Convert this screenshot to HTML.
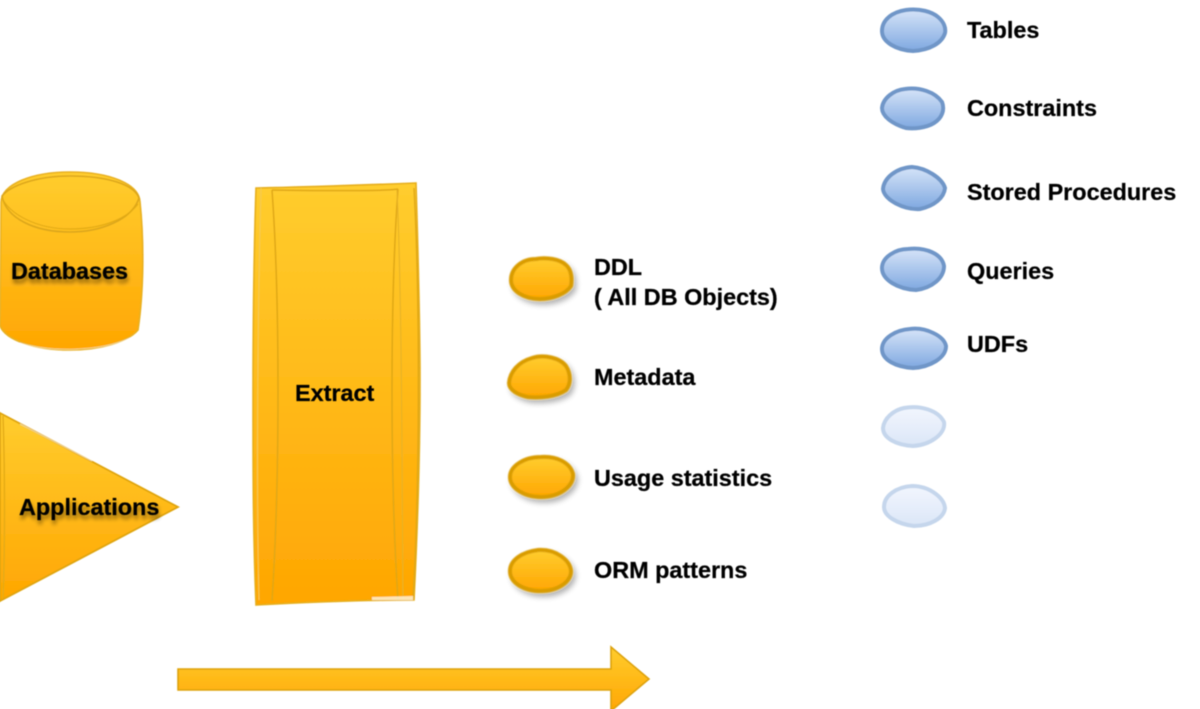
<!DOCTYPE html>
<html>
<head>
<meta charset="utf-8">
<style>
html,body{margin:0;padding:0;background:#fff;width:1200px;height:709px;overflow:hidden}
svg{display:block}
text{font-family:"Liberation Sans",sans-serif;font-weight:bold;font-size:23.4px;fill:#050505;stroke:#050505;stroke-width:0.25px}
.l{filter:url(#ts)}
</style>
</head>
<body>
<svg width="1200" height="709" viewBox="0 0 1200 709" xmlns="http://www.w3.org/2000/svg">
<defs>
<linearGradient id="o" x1="0" y1="0" x2="0" y2="1"><stop offset="0" stop-color="#ffcd2e"/><stop offset="1" stop-color="#ffa602"/></linearGradient>
<linearGradient id="b" x1="0" y1="0" x2="0" y2="1"><stop offset="0" stop-color="#d6e4f8"/><stop offset="1" stop-color="#7fa8e0"/></linearGradient>
<linearGradient id="f" x1="0" y1="0" x2="0" y2="1"><stop offset="0" stop-color="#f2f6fe"/><stop offset="1" stop-color="#dbe6f7"/></linearGradient>
<filter id="soft" x="-10%" y="-10%" width="120%" height="120%"><feGaussianBlur stdDeviation="0.6"/></filter>
<filter id="sh" x="-30%" y="-30%" width="170%" height="170%"><feGaussianBlur in="SourceAlpha" stdDeviation="3" result="a"/><feOffset in="a" dx="3" dy="4" result="o"/><feComponentTransfer in="o" result="c"><feFuncA type="linear" slope="0.3"/></feComponentTransfer><feGaussianBlur in="SourceGraphic" stdDeviation="0.7" result="g"/><feMerge><feMergeNode in="c"/><feMergeNode in="g"/></feMerge></filter>
<filter id="ts" x="-10%" y="-40%" width="120%" height="200%"><feGaussianBlur in="SourceAlpha" stdDeviation="2.2" result="a"/><feOffset in="a" dx="1" dy="4" result="o"/><feComponentTransfer in="o" result="c"><feFuncA type="linear" slope="0.45"/></feComponentTransfer><feGaussianBlur in="SourceGraphic" stdDeviation="0.45" result="g"/><feMerge><feMergeNode in="c"/><feMergeNode in="g"/></feMerge></filter>
<filter id="tx" x="-5%" y="-20%" width="110%" height="140%"><feGaussianBlur stdDeviation="0.45"/></filter>
</defs>

<g filter="url(#soft)">
<!-- Cylinder -->
<path d="M1 202 C2 184 32 172 70 172 C110 172 139 184 140 202 C144 240 144 290 138 330 C128 342 100 350 70 350 C34 350 6 340 0 326 Z" fill="url(#o)" stroke="#e8b020" stroke-width="1.6"/>
<path d="M2 196 C10 186 36 176 70 176 C106 176 134 184 139 198 C132 220 100 232 70 232 C34 232 6 218 2 196 Z" fill="none" stroke="#dca61a" stroke-width="1.6"/>
<path d="M2 198 C10 214 36 229 70 229 C100 229 126 220 138 204" fill="none" stroke="#e3ab18" stroke-width="1.2"/>
<path d="M20 343 C50 352 100 352 130 338" fill="none" stroke="#fff" stroke-opacity="0.5" stroke-width="1"/>

<!-- Triangle -->
<path d="M0 413 L178 507 L0 601 Z" fill="url(#o)" stroke="#dfa410" stroke-width="1.8"/>
<path d="M3 416 C5 470 5 550 3 598" fill="none" stroke="#e3ab18" stroke-width="1.4"/>
<path d="M20 424 L92 461" fill="none" stroke="#fff" stroke-opacity="0.55" stroke-width="1"/>

<!-- Extract -->
<path d="M256 188 C310 187 365 185 416 183 C418 250 420 320 420 380 C420 470 417 540 414 600 C360 600 310 602 256 605 C253 530 253 470 253 400 C253 320 254 250 256 188 Z" fill="url(#o)" stroke="#e6ae1c" stroke-width="1.6"/>
<path d="M261 188 C258 300 256 480 259 600" fill="none" stroke="#f3ca55" stroke-width="1"/>
<path d="M272 190 C280 300 280 480 272 601" fill="none" stroke="#dfa716" stroke-width="1.5"/>
<path d="M272 190 C276 190 380 192 398 189" fill="none" stroke="#dfa716" stroke-width="1.5"/>
<path d="M398 189 C390 300 390 480 398 600" fill="none" stroke="#dfa716" stroke-width="1.5"/>
<path d="M397 190 C402 300 402 480 403 600" fill="none" stroke="#e6b228" stroke-width="1.1"/>
<path d="M414 188 C420 300 420 480 413 600" fill="none" stroke="#dfa716" stroke-width="1.4"/>
<path d="M372 597 L413 596 L413 600 L372 600 Z" fill="#fff" fill-opacity="0.7"/>

<!-- Arrow -->
<path d="M178 669 H611 V647 L649 679 L611 711 V690 H178 Z" fill="url(#o)" stroke="#dda20c" stroke-width="1.6"/>
</g>

<!-- Orange bullets -->
<g fill="url(#o)" stroke="#d99c06" stroke-width="4" filter="url(#sh)">
<path d="M511 280 C511 268 522 259 536 259 C546 257 560 259 566 265 C572 270 572 280 571 286 C566 294 552 299 540 299 C524 299 511 291 511 280 Z"/>
<path d="M509 383 C510 372 518 362 532 358 C544 354 560 358 566 366 C571 374 571 384 566 390 C556 397 540 398 528 397 C518 395 509 390 509 383 Z"/>
<path d="M510 477 C510 466 524 457 541 457 C556 456 570 462 573 474 C574 486 560 497 541 497 C524 497 510 488 510 477 Z"/>
<path d="M510 571 C510 560 522 552 538 550 C556 549 570 560 571 571 C571 582 558 591 541 591 C524 591 510 583 510 571 Z"/>
</g>

<!-- Blue bullets -->
<g fill="url(#b)" stroke="#6f96c8" stroke-width="4" filter="url(#soft)">
<path d="M882 31 C882 20 892 12 906 10 C920 8 932 12 938 17 C944 22 946 28 945 33 C942 43 930 50 913 51 C896 50 882 42 882 31 Z"/>
<path d="M882 108 C883 98 894 90 905 89 C920 87 935 92 942 102 C945 110 942 118 934 123 C926 128 914 129 906 128 C892 124 882 116 882 108 Z"/>
<path d="M883 189 C884 178 896 168 912 167 C926 168 942 178 945 188 C944 198 934 206 920 209 C904 210 884 200 883 189 Z"/>
<path d="M882 268 C882 257 896 249 908 249 C926 247 942 254 944 266 C944 278 932 288 916 290 C898 289 882 280 882 268 Z"/>
<path d="M882 349 C882 338 896 330 910 329 C926 327 944 336 946 346 C946 358 930 367 913 368 C896 367 882 360 882 349 Z"/>
</g>
<g fill="url(#f)" stroke="#c5d6ec" stroke-width="4" filter="url(#soft)">
<path d="M883 428 C884 418 894 410 904 408 C920 405 938 410 944 422 C946 434 930 445 913 446 C896 445 883 438 883 428 Z"/>
<path d="M884 507 C884 496 896 487 912 486 C930 486 944 498 945 508 C944 518 930 526 914 526 C897 524 884 516 884 507 Z"/>
</g>

<!-- Labels -->
<g filter="url(#tx)">
<text x="967" y="38">Tables</text>
<text x="967" y="116">Constraints</text>
<text x="967" y="200">Stored Procedures</text>
<text x="967" y="279">Queries</text>
<text x="967" y="352">UDFs</text>
<text x="594" y="275">DDL</text>
<text x="594" y="305">( All DB Objects)</text>
<text x="594" y="385">Metadata</text>
<text x="594" y="486">Usage statistics</text>
<text x="594" y="578">ORM patterns</text>
<text x="295" y="401">Extract</text>
</g>
<text class="l" x="11" y="279">Databases</text>
<text class="l" x="19" y="515">Applications</text>
</svg>
</body>
</html>
